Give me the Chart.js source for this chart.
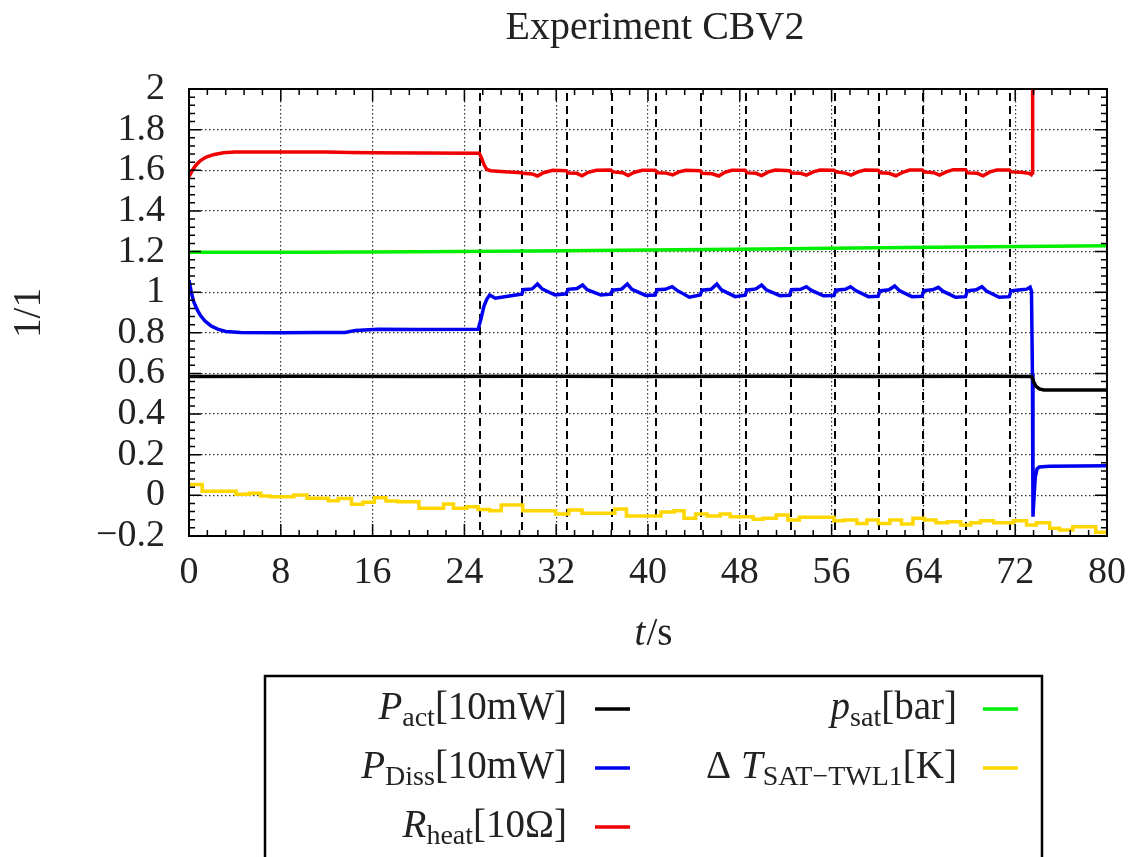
<!DOCTYPE html>
<html>
<head>
<meta charset="utf-8">
<script src="https://cdn.jsdelivr.net/npm/chart.js@4.4.0/dist/chart.umd.min.js"></script>
<style>
  html, body { margin: 0; padding: 0; background: #fff; }
  canvas { display: block; }
</style>
</head>
<body>
<canvas id="chart" width="1140" height="857"></canvas>
<script>
// --- data ---
const xTickLabels = ['0', '8', '16', '24', '32', '40', '48', '56', '64', '72', '80'];
const yTickLabels = ['\u22120.2', '0', '0.2', '0.4', '0.6', '0.8', '1', '1.2', '1.4', '1.6', '1.8', '2'];

// valve switching instants (dashed lines)
const switchTimes = [25.35, 29.02, 32.95, 36.83, 40.70, 44.63, 48.54, 52.42, 56.29, 60.13, 63.96, 67.75, 71.56];

// P_act [10mW]
const actT = [0, 10, 20, 30, 40, 50, 60, 70, 73.45, 73.6, 73.8, 74.1, 74.5, 76, 80];
const actV = [0.585, 0.586, 0.585, 0.586, 0.585, 0.586, 0.585, 0.586, 0.585, 0.56, 0.538, 0.524, 0.519, 0.518, 0.518];

// P_Diss [10mW]
const dissT = [0, 0.2, 0.4, 0.7, 1.0, 1.4, 1.9, 2.5, 3.2, 4.5, 8, 11, 13.6, 14.5, 16.5, 20, 25.2, 25.45, 25.7, 25.95, 26.2, 26.7, 27.5, 28.9,
  29.02, 29.12, 29.9, 30.37, 30.8, 31.9, 32.85,
  33.05, 33.8, 34.3, 34.7, 35.9, 36.75,
  36.9, 37.7, 38.2, 38.6, 39.8, 40.62,
  40.78, 41.5, 42.1, 42.5, 43.6, 44.55,
  44.71, 45.5, 46.0, 46.4, 47.6, 48.46,
  48.62, 49.4, 49.9, 50.3, 51.5, 52.34,
  52.5, 53.3, 53.8, 54.2, 55.3, 56.21,
  56.37, 57.2, 57.65, 58.1, 59.2, 60.05,
  60.21, 61.0, 61.5, 61.9, 63.0, 63.88,
  64.04, 64.8, 65.3, 65.7, 66.8, 67.67,
  67.83, 68.6, 69.1, 69.5, 70.6, 71.48,
  71.64, 72.5, 73.0, 73.3, 73.42, 73.5, 73.55, 73.65, 73.75, 73.9, 74.1, 75, 80];
const dissV = [1.06, 1.0, 0.955, 0.915, 0.885, 0.858, 0.835, 0.818, 0.807, 0.802, 0.800, 0.801, 0.802, 0.812, 0.817, 0.816, 0.818, 0.87, 0.93, 0.965, 0.986, 0.970, 0.978, 0.990,
  0.992, 1.012, 1.016, 1.040, 1.015, 0.986, 0.992,
  1.014, 1.018, 1.035, 1.012, 0.986, 0.990,
  1.010, 1.015, 1.040, 1.014, 0.984, 0.986,
  1.012, 1.014, 1.027, 1.010, 0.975, 0.986,
  1.010, 1.014, 1.040, 1.012, 0.978, 0.985,
  1.010, 1.016, 1.035, 1.012, 0.983, 0.985,
  1.012, 1.014, 1.027, 1.010, 0.982, 0.984,
  1.010, 1.014, 1.027, 1.008, 0.978, 0.980,
  1.006, 1.012, 1.030, 1.008, 0.978, 0.980,
  1.008, 1.012, 1.024, 1.005, 0.975, 0.978,
  1.007, 1.012, 1.027, 1.006, 0.975, 0.978,
  1.007, 1.012, 1.015, 1.025, 1.005, 0.6, -0.105, 0.0, 0.09, 0.13, 0.140, 0.143, 0.146];

// R_heat [10Ohm]
const heatT = [0, 0.3, 0.6, 1.0, 1.5, 2.2, 3.0, 4.0, 8, 12, 14, 16, 20, 25.3, 25.5, 25.7, 25.95, 26.3, 27.5, 29.0,
  29.1, 29.9, 30.37, 30.9, 31.7, 32.88,
  33.05, 33.8, 34.25, 34.8, 35.5, 36.76,
  36.93, 37.8, 38.27, 38.8, 39.5, 40.63,
  40.8, 41.6, 42.15, 42.7, 43.3, 44.56,
  44.73, 45.6, 46.16, 46.7, 47.3, 48.47,
  48.64, 49.4, 49.9, 50.5, 51.1, 52.35,
  52.52, 53.3, 53.8, 54.4, 55.0, 56.22,
  56.39, 57.2, 57.7, 58.3, 58.9, 60.06,
  60.23, 61.0, 61.6, 62.2, 62.8, 63.89,
  64.06, 64.9, 65.4, 66.0, 66.6, 67.68,
  67.85, 68.7, 69.2, 69.8, 70.4, 71.49,
  71.66, 72.5, 73.2, 73.4, 73.48, 73.52];
const heatV = [1.568, 1.600, 1.625, 1.648, 1.665, 1.678, 1.686, 1.690, 1.690, 1.690, 1.688, 1.686, 1.685, 1.684, 1.66, 1.628, 1.604, 1.598, 1.593, 1.588,
  1.585, 1.582, 1.572, 1.588, 1.600, 1.598,
  1.586, 1.585, 1.573, 1.590, 1.600, 1.601,
  1.592, 1.588, 1.574, 1.590, 1.600, 1.600,
  1.588, 1.586, 1.577, 1.592, 1.600, 1.598,
  1.585, 1.583, 1.572, 1.590, 1.600, 1.600,
  1.587, 1.585, 1.574, 1.592, 1.601, 1.598,
  1.587, 1.585, 1.576, 1.592, 1.601, 1.600,
  1.592, 1.586, 1.576, 1.592, 1.601, 1.600,
  1.588, 1.585, 1.573, 1.590, 1.601, 1.601,
  1.592, 1.588, 1.576, 1.592, 1.603, 1.603,
  1.587, 1.585, 1.573, 1.592, 1.601, 1.601,
  1.592, 1.590, 1.585, 1.578, 1.588, 2.5];

// p_sat [bar]
const satT = [0, 10, 20, 30, 40, 50, 60, 70, 80];
const satV = [1.196, 1.197, 1.199, 1.203, 1.208, 1.213, 1.219, 1.224, 1.229];

// Delta T_SAT-TWL1 [K] (stepped)
const dtT = [0, 1.15, 4.1, 5.25, 6.26, 7.06, 9.13, 10.28, 12.14, 13.0, 14.16, 15.16, 16.16, 17.17, 18.18, 20.04, 22.19, 23.05, 24.2, 25.2,
  26.21, 27.21, 29.08, 31.95, 33.1, 34.25, 37.11, 38.12, 41.13, 42.28, 43.14, 44.15, 45.15, 46.30, 47.16, 49.17, 50.03, 51.18, 52.19,
  53.19, 56.2, 57.07, 58.21, 59.07, 60.08, 61.08, 62.09, 63.09, 64.1, 65.1, 66.1, 67.25, 68.12, 68.98, 70.12, 71.84, 72.99, 73.85,
  75.0, 75.87, 77.02, 78.16, 79.02, 80];
const dtV = [0.054, 0.020, 0.005, 0.010, -0.003, -0.007, 0.002, -0.014, -0.026, -0.016, -0.044, -0.034, -0.012, -0.028, -0.031, -0.064, -0.043, -0.064, -0.056, -0.070,
  -0.076, -0.047, -0.076, -0.092, -0.072, -0.088, -0.067, -0.102, -0.082, -0.076, -0.113, -0.092, -0.102, -0.092, -0.105, -0.118, -0.113, -0.097, -0.121,
  -0.108, -0.125, -0.121, -0.138, -0.121, -0.138, -0.121, -0.141, -0.113, -0.121, -0.135, -0.130, -0.146, -0.135, -0.125, -0.135, -0.125, -0.146, -0.135,
  -0.162, -0.170, -0.154, -0.154, -0.182, -0.182];

const SERIF = '"Liberation Serif", "Times New Roman", serif';
const font = (size, italic) => (italic ? 'italic ' : '') + size + 'px ' + SERIF;

const pts = (ts, vs) => ts.map((t, i) => ({ x: t, y: vs[i] }));

const legendEntries = [
  { col: 0, row: 0, color: '#000000', parts: [{ t: 'P', it: true }, { t: 'act', sub: true }, { t: '[10mW]' }] },
  { col: 0, row: 1, color: '#0000f0', parts: [{ t: 'P', it: true }, { t: 'Diss', sub: true }, { t: '[10mW]' }] },
  { col: 0, row: 2, color: '#f00000', parts: [{ t: 'R', it: true }, { t: 'heat', sub: true }, { t: '[10\u03A9]' }] },
  { col: 1, row: 0, color: '#00ee00', parts: [{ t: 'p', it: true }, { t: 'sat', sub: true }, { t: '[bar]' }] },
  { col: 1, row: 1, color: '#ffd700', parts: [{ t: '\u0394 ' }, { t: 'T', it: true }, { t: 'SAT\u2212TWL1', sub: true }, { t: '[K]' }] }
];

function drawRich(ctx, parts, rightX, baseY) {
  const widths = parts.map(p => { ctx.font = font(p.sub ? 28 : 39, p.it); return ctx.measureText(p.t).width; });
  let x = rightX - widths.reduce((a, b) => a + b, 0);
  ctx.textAlign = 'left';
  ctx.textBaseline = 'alphabetic';
  parts.forEach((p, i) => {
    ctx.font = font(p.sub ? 28 : 39, p.it);
    ctx.fillText(p.t, x, baseY + (p.sub ? 7 : 0));
    x += widths[i];
  });
}

// dashed switching lines, drawn under the curves
const switchLines = {
  id: 'switchLines',
  beforeDatasetsDraw(chart) {
    const { ctx, chartArea: a, scales: { x } } = chart;
    ctx.save();
    ctx.strokeStyle = '#000';
    ctx.lineWidth = 2;
    ctx.setLineDash([8, 5]);
    switchTimes.forEach(t => {
      const px = Math.round(x.getPixelForValue(t));
      ctx.beginPath();
      ctx.moveTo(px, a.top + 4);
      ctx.lineTo(px, a.bottom);
      ctx.stroke();
    });
    ctx.restore();
  }
};

// frame, inward ticks, titles and gnuplot-like key
const decorations = {
  id: 'decorations',
  afterDraw(chart) {
    const { ctx, chartArea: a, scales: { x, y } } = chart;
    ctx.save();
    ctx.strokeStyle = '#000';
    ctx.lineWidth = 1.5;
    ctx.beginPath();
    for (let i = 0; i <= 50; i++) {
      const px = x.getPixelForValue(i * 1.6);
      const len = i % 5 === 0 ? 12 : 6;
      ctx.moveTo(px, a.bottom); ctx.lineTo(px, a.bottom - len);
      ctx.moveTo(px, a.top); ctx.lineTo(px, a.top + len);
    }
    for (let i = 0; i <= 55; i++) {
      const py = y.getPixelForValue(-0.2 + i * 0.04);
      const len = i % 5 === 0 ? 12 : 6;
      ctx.moveTo(a.left, py); ctx.lineTo(a.left + len, py);
      ctx.moveTo(a.right, py); ctx.lineTo(a.right - len, py);
    }
    ctx.stroke();
    ctx.lineWidth = 2;
    ctx.strokeRect(a.left, a.top, a.right - a.left, a.bottom - a.top);

    ctx.fillStyle = '#222';
    // title
    ctx.font = font(40);
    ctx.textAlign = 'center';
    ctx.textBaseline = 'alphabetic';
    ctx.fillText('Experiment CBV2', 655, 39);

    // x axis title  t/s
    ctx.textAlign = 'left';
    ctx.font = font(39, true);
    const wt = ctx.measureText('t').width;
    ctx.font = font(39);
    const ws = ctx.measureText('/s').width;
    const x0 = 653 - (wt + ws) / 2;
    ctx.font = font(39, true);
    ctx.fillText('t', x0, 645);
    ctx.font = font(39);
    ctx.fillText('/s', x0 + wt + 1, 645);

    // y axis title
    ctx.save();
    ctx.translate(40, 313);
    ctx.rotate(-Math.PI / 2);
    ctx.textAlign = 'center';
    ctx.font = font(39);
    ctx.fillText('1/1', 0, 0);
    ctx.restore();

    // key box
    ctx.strokeStyle = '#000';
    ctx.lineWidth = 2.5;
    ctx.strokeRect(265, 676, 1042 - 265, 240);
    const colText = [567, 957];
    const colLine = [[595, 630], [983, 1018]];
    const rowY = [709, 768, 827];
    legendEntries.forEach(e => {
      const yy = rowY[e.row];
      ctx.fillStyle = '#222';
      drawRich(ctx, e.parts, colText[e.col], yy + 10);
      ctx.strokeStyle = e.color;
      ctx.lineWidth = 3.5;
      ctx.beginPath();
      ctx.moveTo(colLine[e.col][0], yy);
      ctx.lineTo(colLine[e.col][1], yy);
      ctx.stroke();
    });
    ctx.restore();
  }
};

const line = (label, data, color, extra) => Object.assign({
  label, data, borderColor: color, backgroundColor: color,
  borderWidth: 3.5, pointRadius: 0, tension: 0, fill: false, clip: 0
}, extra || {});

new Chart(document.getElementById('chart'), {
  type: 'line',
  data: {
    datasets: [
      line('P_act[10mW]', pts(actT, actV), '#000000'),
      line('P_Diss[10mW]', pts(dissT, dissV), '#0000f0'),
      line('R_heat[10Ohm]', pts(heatT, heatV), '#f00000'),
      line('p_sat[bar]', pts(satT, satV), '#00ee00'),
      line('dT_SAT-TWL1[K]', pts(dtT, dtV), '#ffd700', { stepped: 'before' })
    ]
  },
  options: {
    responsive: false,
    devicePixelRatio: 1,
    animation: false,
    layout: { padding: { left: 0, top: 89, right: 22, bottom: 261 } },
    plugins: { legend: { display: false }, title: { display: false }, tooltip: { enabled: false } },
    scales: {
      x: {
        type: 'linear', min: 0, max: 80,
        afterFit: s => { s.height = 60; },
        ticks: {
          stepSize: 8, autoSkip: false, maxRotation: 0, padding: 14,
          color: '#222', font: { family: SERIF, size: 38 },
          callback: (v, i) => xTickLabels[i]
        },
        grid: { color: '#333', lineWidth: 1.2, drawTicks: false },
        border: { display: false, dash: [1.5, 2.5] }
      },
      y: {
        type: 'linear', min: -0.2, max: 2,
        afterFit: s => { s.width = 189; },
        ticks: {
          stepSize: 0.2, autoSkip: false, padding: 24,
          color: '#222', font: { family: SERIF, size: 38 },
          callback: (v, i) => yTickLabels[i]
        },
        grid: { color: '#333', lineWidth: 1.2, drawTicks: false },
        border: { display: false, dash: [1.5, 2.5] }
      }
    }
  },
  plugins: [switchLines, decorations]
});
</script>
</body>
</html>
